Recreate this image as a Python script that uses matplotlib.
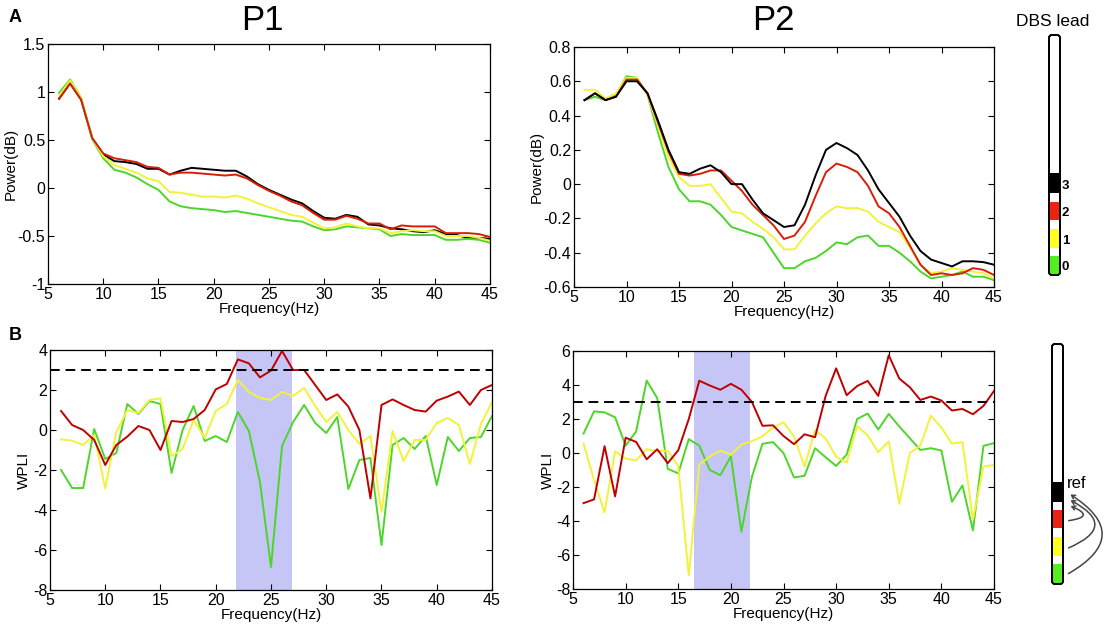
import numpy as np
import matplotlib
matplotlib.use("Agg")
import matplotlib.pyplot as plt
from matplotlib.patches import FancyBboxPatch, Rectangle, FancyArrowPatch

plt.rcParams['font.family'] = ['Liberation Sans', 'DejaVu Sans']
plt.rcParams['font.size'] = 10

# frequencies (Hz)
freqs = [6, 7, 8, 9, 10, 11, 12, 13, 14, 15, 16, 17, 18, 19, 20, 21, 22, 23, 24, 25,
         26, 27, 28, 29, 30, 31, 32, 33, 34, 35, 36, 37, 38, 39, 40, 41, 42, 43, 44, 45]

# A - power, P1
p1_black = [0.93, 1.09, 0.92, 0.52, 0.35, 0.28, 0.27, 0.25, 0.20, 0.20,
            0.14, 0.18, 0.21, 0.20, 0.19, 0.18, 0.18, 0.12, 0.04, -0.02,
            -0.07, -0.12, -0.16, -0.24, -0.31, -0.32, -0.28, -0.30, -0.38, -0.39,
            -0.42, -0.43, -0.45, -0.46, -0.44, -0.48, -0.49, -0.52, -0.52, -0.53]
p1_red = [0.93, 1.09, 0.92, 0.52, 0.36, 0.31, 0.29, 0.27, 0.22, 0.21,
          0.14, 0.16, 0.16, 0.15, 0.14, 0.13, 0.14, 0.10, 0.03, -0.03,
          -0.08, -0.14, -0.18, -0.26, -0.33, -0.33, -0.29, -0.32, -0.37, -0.37,
          -0.43, -0.39, -0.40, -0.40, -0.40, -0.47, -0.47, -0.47, -0.48, -0.51]
p1_yellow = [0.96, 1.12, 0.94, 0.52, 0.33, 0.24, 0.20, 0.16, 0.10, 0.07,
             -0.04, -0.05, -0.07, -0.09, -0.09, -0.10, -0.08, -0.11, -0.16, -0.20,
             -0.24, -0.28, -0.30, -0.36, -0.42, -0.41, -0.37, -0.40, -0.42, -0.42,
             -0.47, -0.45, -0.44, -0.45, -0.45, -0.50, -0.50, -0.50, -0.52, -0.55]
p1_green = [0.99, 1.13, 0.94, 0.51, 0.31, 0.19, 0.16, 0.11, 0.04, -0.02,
            -0.14, -0.19, -0.21, -0.22, -0.23, -0.25, -0.24, -0.26, -0.28, -0.30,
            -0.32, -0.34, -0.35, -0.40, -0.44, -0.43, -0.40, -0.41, -0.42, -0.43,
            -0.50, -0.48, -0.49, -0.49, -0.49, -0.54, -0.54, -0.53, -0.54, -0.57]

# A - power, P2
p2_black = [0.49, 0.53, 0.49, 0.51, 0.60, 0.60, 0.53, 0.37, 0.20, 0.07,
            0.06, 0.09, 0.11, 0.07, 0.00, 0.00, -0.09, -0.17, -0.21, -0.25,
            -0.24, -0.12, 0.05, 0.20, 0.24, 0.21, 0.17, 0.08, -0.03, -0.11,
            -0.19, -0.30, -0.39, -0.44, -0.46, -0.48, -0.45, -0.45, -0.455, -0.47]
p2_red = [0.49, 0.53, 0.49, 0.51, 0.61, 0.61, 0.53, 0.36, 0.19, 0.06,
          0.05, 0.06, 0.08, 0.08, 0.02, -0.04, -0.12, -0.18, -0.24, -0.32,
          -0.30, -0.22, -0.07, 0.07, 0.12, 0.10, 0.07, -0.01, -0.13, -0.17,
          -0.25, -0.36, -0.47, -0.53, -0.52, -0.53, -0.52, -0.49, -0.50, -0.53]
p2_yellow = [0.55, 0.55, 0.50, 0.53, 0.62, 0.62, 0.52, 0.34, 0.16, 0.04,
             -0.01, -0.01, 0.00, -0.08, -0.16, -0.17, -0.22, -0.26, -0.31, -0.38,
             -0.38, -0.30, -0.23, -0.17, -0.13, -0.14, -0.14, -0.16, -0.22, -0.25,
             -0.28, -0.37, -0.47, -0.52, -0.51, -0.49, -0.50, -0.51, -0.52, -0.55]
p2_green = [0.49, 0.51, 0.49, 0.52, 0.63, 0.62, 0.52, 0.30, 0.10, -0.03,
            -0.10, -0.10, -0.12, -0.18, -0.25, -0.27, -0.29, -0.31, -0.40, -0.49,
            -0.49, -0.45, -0.43, -0.39, -0.34, -0.35, -0.31, -0.30, -0.36, -0.36,
            -0.40, -0.45, -0.51, -0.55, -0.54, -0.53, -0.51, -0.54, -0.54, -0.56]

# B - WPLI, P1
w1_red = [0.95, 0.25, 0.0, -0.5, -1.75, -0.75, -0.33, 0.2, 0.0, -1.0,
          0.45, 0.4, 0.55, 1.0, 2.03, 2.3, 3.53, 3.33, 2.63, 2.97,
          3.95, 3.0, 3.0, 2.25, 1.5, 1.78, 1.17, 0.0, -3.42, 1.25,
          1.53, 1.25, 1.0, 0.92, 1.47, 1.67, 1.92, 1.25, 2.0, 2.25]
w1_yellow = [-0.47, -0.53, -0.75, -0.25, -2.92, -0.1, 1.0, 0.85, 1.5, 1.58,
             -1.3, -0.95, 0.5, -0.4, 0.95, 1.3, 2.5, 1.9, 1.6, 1.5,
             1.9, 1.7, 2.1, 1.2, 0.4, 0.9, 0.0, -0.7, -0.3, -4.1,
             -0.05, -1.55, -0.5, -0.5, 0.35, 0.6, 0.25, -1.7, 0.3, 1.4]
w1_green = [-2.0, -2.9, -2.9, 0.05, -1.45, -1.15, 1.3, 0.8, 1.45, 1.3,
            -2.15, 0.0, 1.2, -0.55, -0.3, -0.6, 0.9, -0.05, -2.6, -6.85,
            -0.8, 0.4, 1.25, 0.35, -0.15, 0.65, -2.95, -1.5, -1.4, -5.75,
            -0.75, -0.4, -0.95, -0.3, -2.75, -0.35, -1.05, -0.4, -0.35, 0.7]

# B - WPLI, P2
w2_red = [-2.95, -2.73, 0.4, -2.55, 0.9, 0.65, -0.37, 0.22, -0.6, 0.16,
          2.0, 4.25, 3.97, 3.72, 4.07, 3.72, 3.0, 1.6, 1.63, 1.0,
          0.52, 1.1, 0.93, 3.35, 4.98, 3.4, 3.94, 4.24, 3.36, 5.75,
          4.38, 3.87, 3.12, 3.32, 3.09, 2.5, 2.59, 2.28, 2.77, 3.65]
w2_yellow = [0.55, -1.6, -3.5, 0.1, -0.33, -0.43, 0.23, 0.1, 0.14, -0.78,
             -7.2, -0.68, -0.2, 0.14, -0.1, 0.5, 0.7, 0.98, 1.5, 1.8,
             0.99, -0.8, 1.35, 0.85, -0.22, -0.56, 1.58, 1.04, 0.05, 0.68,
             -2.99, 0.0, 0.43, 2.19, 1.5, 0.55, 0.64, -3.9, -0.8, -0.7]
w2_green = [1.14, 2.45, 2.39, 2.1, 0.43, 1.27, 4.26, 3.23, -0.93, -1.2,
            0.82, 0.43, -1.0, -1.3, -0.2, -4.63, -1.4, 0.54, 0.64, 0.0,
            -1.44, -1.34, 0.28, -0.25, -0.76, -0.1, 2.0, 2.32, 1.38, 2.3,
            1.56, 0.87, 0.18, 0.28, 0.15, -2.87, -1.91, -4.55, 0.42, 0.58]

# significant bands and threshold
band_p1 = (21.8, 26.9)
band_p2 = (16.5, 21.8)
threshold = 3
lead_labels = ['3', '2', '1', '0']

BLACK = 'black'
RED = '#d81e05'
DRED = '#c00000'
YEL = '#f2f23a'
GRN = '#4cd62a'
SHADE = '#c5c5f6'

W, H = 1106, 625
fig = plt.figure(figsize=(W / 100, H / 100), dpi=100)


def px_axes(x0, y0, x1, y1):
    return fig.add_axes([x0 / W, 1 - y1 / H, (x1 - x0) / W, (y1 - y0) / H])


def style(ax, ylim, yticks, ylabel, ylab_x):
    ax.set_xlim(5, 45)
    ax.set_ylim(*ylim)
    ax.set_xticks(range(5, 46, 5))
    ax.set_yticks(yticks)
    ax.tick_params(direction='in', top=True, right=True, length=4, width=0.8,
                   labelsize=11.5, pad=2)
    ax.set_xlabel('Frequency(Hz)', fontsize=11, labelpad=0)
    ax.set_ylabel(ylabel, fontsize=11)
    ax.yaxis.set_label_coords(ylab_x, 0.5)
    for s in ax.spines.values():
        s.set_linewidth(0.9)


lw = 1.4

# top left
ax1 = px_axes(48, 44, 490, 284)
ax1.plot(freqs, p1_black, color=BLACK, lw=lw)
ax1.plot(freqs, p1_green, color=GRN, lw=lw)
ax1.plot(freqs, p1_yellow, color=YEL, lw=lw)
ax1.plot(freqs, p1_red, color=RED, lw=lw)
style(ax1, (-1, 1.5), [-1, -0.5, 0, 0.5, 1, 1.5], 'Power(dB)', -0.069)
ax1.set_yticklabels(['-1', '-0.5', '0', '0.5', '1', '1.5'])

# top right
ax2 = px_axes(574, 47, 994, 287)
ax2.plot(freqs, p2_green, color=GRN, lw=lw)
ax2.plot(freqs, p2_yellow, color=YEL, lw=lw)
ax2.plot(freqs, p2_red, color=RED, lw=lw)
ax2.plot(freqs, p2_black, color=BLACK, lw=lw)
style(ax2, (-0.6, 0.8), [-0.6, -0.4, -0.2, 0, 0.2, 0.4, 0.6, 0.8], 'Power(dB)', -0.071)
ax2.set_yticklabels(['-0.6', '-0.4', '-0.2', '0', '0.2', '0.4', '0.6', '0.8'])

# bottom left
ax3 = px_axes(50, 350, 492, 590)
ax3.axvspan(*band_p1, ymax=0.995, color=SHADE, lw=0)
ax3.plot(freqs, w1_green, color=GRN, lw=lw)
ax3.plot(freqs, w1_yellow, color=YEL, lw=lw)
ax3.plot(freqs, w1_red, color=DRED, lw=lw)
ax3.axhline(threshold, color='black', lw=1.4, ls=(0, (5, 3)))
style(ax3, (-8, 4), [-8, -6, -4, -2, 0, 2, 4], 'WPLI', -0.043)
ax3.set_yticklabels(['-8', '-6', '-4', '-2', '0', '2', '4'])

# bottom right
ax4 = px_axes(573, 351, 994, 589)
ax4.axvspan(*band_p2, color=SHADE, lw=0)
ax4.plot(freqs, w2_green, color=GRN, lw=lw)
ax4.plot(freqs, w2_yellow, color=YEL, lw=lw)
ax4.plot(freqs, w2_red, color=DRED, lw=lw)
ax4.axhline(threshold, color='black', lw=1.4, ls=(0, (5, 3)))
style(ax4, (-8, 6), [-8, -6, -4, -2, 0, 2, 4, 6], 'WPLI', -0.042)
ax4.set_yticklabels(['-8', '-6', '-4', '-2', '0', '2', '4', '6'])

# overlay in pixel coordinates for titles and lead sketches
ov = fig.add_axes([0, 0, 1, 1])
ov.set_xlim(0, W)
ov.set_ylim(H, 0)
ov.axis('off')

ov.text(262, 21, 'P1', fontsize=25, ha='center', va='center')
ov.text(773, 21, 'P2', fontsize=25, ha='center', va='center')
ov.text(9, 18, 'A', fontsize=13, fontweight='bold', ha='left', va='center')
ov.text(9, 336, 'B', fontsize=13, fontweight='bold', ha='left', va='center')
ov.text(1053, 21, 'DBS lead', fontsize=12.5, ha='center', va='center')

seg_cols = [BLACK, '#ee2211', '#ffff22', '#55ee22']


def lead(x0, top, bottom, segs):
    w = 11
    ov.add_patch(FancyBboxPatch((x0, top), w, bottom - top,
                                boxstyle='round,pad=0,rounding_size=3',
                                fc='white', ec='black', lw=1.3, zorder=2))
    for (s0, s1), c in zip(segs, seg_cols):
        ov.add_patch(Rectangle((x0 + 0.6, s0), w - 1.2, s1 - s0, fc=c, ec='none', zorder=3))
    ov.add_patch(FancyBboxPatch((x0, top), w, bottom - top,
                                boxstyle='round,pad=0,rounding_size=3',
                                fc='none', ec='black', lw=1.3, zorder=4))


top_segs = [(173, 193), (202, 220), (229, 248), (256, 274)]
lead(1049, 35, 275, top_segs)
for (s0, s1), lab in zip(top_segs, lead_labels):
    ov.text(1062, s1 - 7, lab, fontsize=9.5, fontweight='bold', ha='left', va='center')

bot_segs = [(482, 502), (510, 528), (537, 556), (564, 583)]
lead(1052, 344, 584, bot_segs)
ov.text(1067, 483, 'ref', fontsize=12, ha='left', va='center')
for (y0, y1, rad) in [(521, 505, 2.0), (549, 499, 1.1), (575, 493, 0.85)]:
    ov.add_patch(FancyArrowPatch((1066, y0), (1068, y1),
                                 connectionstyle=f'arc3,rad={rad}',
                                 arrowstyle='->,head_length=2.5,head_width=1.5',
                                 color='#444444', lw=1.1))

fig.savefig('out.png', dpi=100)
